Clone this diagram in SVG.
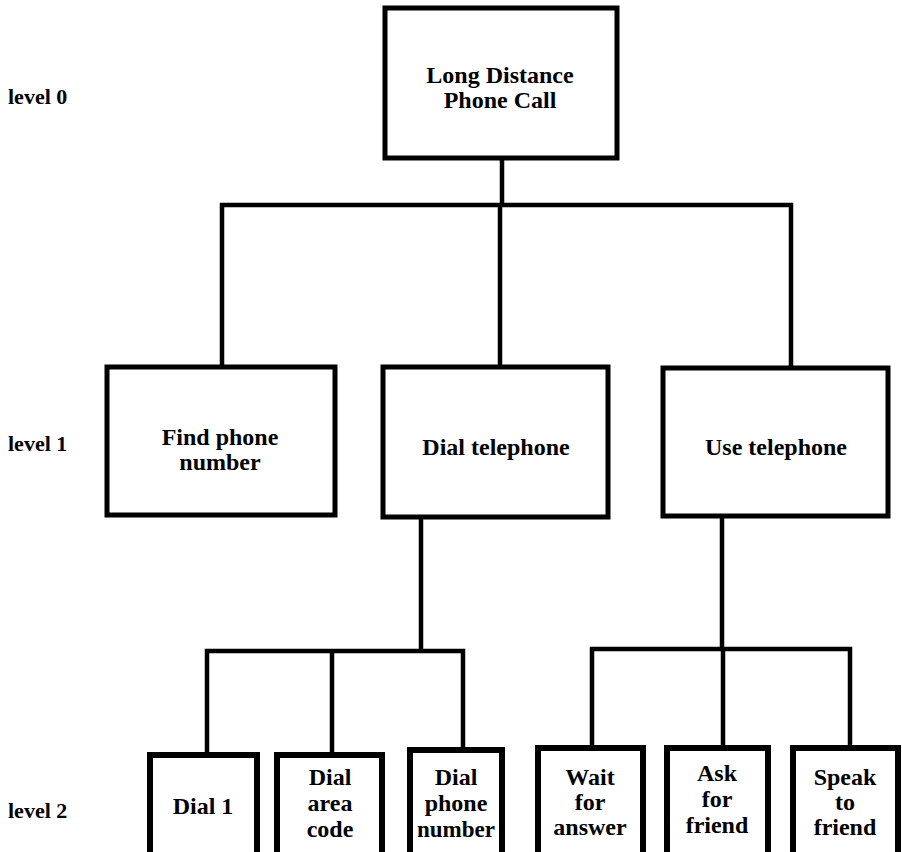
<svg xmlns="http://www.w3.org/2000/svg" width="902" height="852" viewBox="0 0 902 852">
<style>
.box{fill:#fff;stroke:#000;stroke-width:5}
.box2{fill:#fff;stroke:#000;stroke-width:6}
.ln{fill:none;stroke:#000;stroke-width:4.5;stroke-linejoin:miter;stroke-linecap:square}
text{font-family:'Liberation Serif','DejaVu Serif',serif;font-weight:bold;fill:#000;text-anchor:middle}
.t0{font-size:24px}
.t1{font-size:24px}
.t2{font-size:24px}
.lv{font-size:22px;text-anchor:start}
</style>
<rect width="902" height="852" fill="#fff"/>
<g id="connectors">
<path class="ln" d="M502 158 V205 M222 367 V205 H791 V368 M500 205 V367"/>
<path class="ln" d="M421 517 V651 M207 754 V651 H463 V750 M332 651 V755"/>
<path class="ln" d="M722 516 V649 M592 748 V649 H850 V748 M723 649 V748"/>
</g>
<g id="labels">
<text class="lv" x="8" y="104">level 0</text>
<text class="lv" x="8" y="451">level 1</text>
<text class="lv" x="8" y="818">level 2</text>
</g>
<g id="n0"><rect class="box" x="385" y="8" width="232" height="150"/>
<text class="t0" x="500" y="83">Long Distance</text><text class="t0" x="500" y="108">Phone Call</text></g>
<g id="n1"><rect class="box" x="107" y="367" width="228" height="148"/>
<text class="t1" x="220" y="445">Find phone</text><text class="t1" x="220" y="470">number</text></g>
<g id="n2"><rect class="box" x="383" y="367" width="225" height="150"/>
<text class="t1" x="496" y="455">Dial telephone</text></g>
<g id="n3"><rect class="box" x="663" y="368" width="225" height="148"/>
<text class="t1" x="776" y="455">Use telephone</text></g>
<g id="n4"><rect class="box2" x="150" y="755" width="107" height="110"/>
<text class="t2" x="203" y="814">Dial 1</text></g>
<g id="n5"><rect class="box2" x="277" y="755" width="105" height="110"/>
<text class="t2" x="330" y="785">Dial</text><text class="t2" x="330" y="811">area</text><text class="t2" x="330" y="837">code</text></g>
<g id="n6"><rect class="box2" x="410" y="750" width="92" height="115"/>
<text class="t2" x="456" y="785">Dial</text><text class="t2" x="456" y="811">phone</text><text class="t2" x="456" y="837" textLength="78" lengthAdjust="spacingAndGlyphs">number</text></g>
<g id="n7"><rect class="box2" x="538" y="748" width="105" height="117"/>
<text class="t2" x="590" y="785">Wait</text><text class="t2" x="590" y="810">for</text><text class="t2" x="590" y="835">answer</text></g>
<g id="n8"><rect class="box2" x="667" y="748" width="101" height="117"/>
<text class="t2" x="717" y="781">Ask</text><text class="t2" x="717" y="807">for</text><text class="t2" x="717" y="833">friend</text></g>
<g id="n9"><rect class="box2" x="793" y="748" width="105" height="117"/>
<text class="t2" x="845" y="785">Speak</text><text class="t2" x="845" y="810">to</text><text class="t2" x="845" y="835">friend</text></g>
</svg>
